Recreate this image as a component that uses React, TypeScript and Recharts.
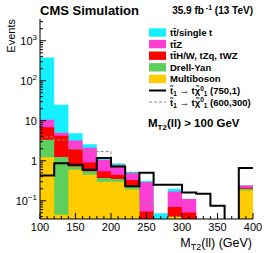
import React from 'react'
import { ComposedChart, Area, Line, XAxis, YAxis } from 'recharts'

// bin low edges (GeV), last entry closes the 380-400 bin
const binEdges = [100, 120, 140, 160, 180, 200, 220, 240, 260, 280, 300, 320, 340, 360, 380, 400]

// stacked backgrounds, events per bin (bottom to top)
const multiboson = [1.23, 0.045, 0.6, 0.45, 0.3, 0.3, 0.19, 0, 0, 0.04, 0, 0, 0, 0, 0.18]
const drellYan   = [2.12, 1.2, 0.12, 0.1, 0.07, 0.05, 0.05, 0, 0, 0, 0, 0, 0, 0, 0.02]
const ttOther    = [3.55, 2.95, 1.18, 0.35, 0.18, 0.1, 0.09, 0.054, 0, 0.03, 0.051, 0, 0, 0, 0.01]
const ttZ        = [3.7, 0.8, 1.3, 1.2, 0.5, 0.3, 0.16, 0.236, 0, 0.1, 0.059, 0, 0, 0, 0.03]
const ttSingleT  = [369, 20, 1.7, 0.5, 0.05, 0.1, 0.04, 0.02, 0.049, 0.03, 0, 0, 0, 0, 0.005]

// signal points
const sig750 = [0.43, 0.87, 0.79, 0.6, 1.17, 0.72, 0.23, 0.5, 0.25, 0.25, 0.16, 0.15, 0.075, 0, 0.66]
const sig600 = [3.9, 3.3, 2.0, 1.7, 1.7, 0.8, 0.5, 0.09, 0, 0, 0, 0, 0, 0, 0]

const xMajor = [100, 150, 200, 250, 300, 350, 400]
const yMajor = [0.1, 1, 10, 100, 1000]
const yLabels: Record<string, [string, string]> = {
  '0.1': ['10', '\u22121'],
  '1': ['1', ''],
  '10': ['10', ''],
  '100': ['10', '2'],
  '1000': ['10', '3'],
}

const CYAN = '#14f0ff'
const MAGENTA = '#ff3dd5'
const RED = '#ff0000'
const GREEN = '#5ccf5c'
const YELLOW = '#ffcc00'
const FONT = '"Liberation Sans", Arial, sans-serif'

const FLOOR = 0.001 // below the visible range, clipped away

const rows = binEdges.map((x, i) => {
  const b = Math.min(i, multiboson.length - 1)
  const mb = multiboson[b]
  const dy = mb + drellYan[b]
  const oth = dy + ttOther[b]
  const z = oth + ttZ[b]
  const tot = z + ttSingleT[b]
  return {
    x,
    mb: Math.max(mb, FLOOR),
    dy: Math.max(dy, FLOOR),
    oth: Math.max(oth, FLOOR),
    z: Math.max(z, FLOOR),
    tot: Math.max(tot, FLOOR),
    s750: Math.max(sig750[b], FLOOR),
    s600: Math.max(sig600[b], FLOOR),
  }
})

const xTicks: number[] = []
for (let v = 100; v <= 400; v += 10) xTicks.push(v)
const yTicks: number[] = []
for (let e = -2; e <= 3; e++) {
  for (let m = 1; m <= 9; m++) {
    const v = Number((m * Math.pow(10, e)).toPrecision(3))
    if (v >= 0.035 && v <= 3500) yTicks.push(v)
  }
}

const isMajorY = (v: number) => yMajor.includes(v)

function BottomTick({ x, y, payload }: any) {
  const v = payload.value
  const major = xMajor.includes(v)
  return (
    <g>
      <line x1={x} x2={x} y1={y} y2={y - (major ? 6 : 3)} stroke="#000" />
      {major && (
        <text x={x} y={y + 12} textAnchor="middle" fontSize={11} fontFamily={FONT} fill="#000">
          {v}
        </text>
      )}
    </g>
  )
}

function TopTick({ x, y, payload }: any) {
  const major = xMajor.includes(payload.value)
  return <line x1={x} x2={x} y1={y} y2={y + (major ? 6 : 3)} stroke="#000" />
}

function LeftTick({ x, y, payload }: any) {
  const v = payload.value
  const major = isMajorY(v)
  const lab = yLabels[String(v)]
  if (!major || !lab) {
    return <line x1={x} x2={x + 3} y1={y} y2={y} stroke="#000" />
  }
  return (
    <g>
      <line x1={x} x2={x + 6} y1={y} y2={y} stroke="#000" />
      {lab[1] ? (
        <text x={x - 3} y={y + 4} textAnchor="end" fontSize={11} fontFamily={FONT} fill="#000">
          {lab[0]}
          <tspan dy={-5} fontSize={8}>{lab[1]}</tspan>
        </text>
      ) : (
        <text x={x - 3} y={y + 4} textAnchor="end" fontSize={11} fontFamily={FONT} fill="#000">
          {lab[0]}
        </text>
      )}
    </g>
  )
}

function RightTick({ x, y, payload }: any) {
  const major = isMajorY(payload.value)
  return <line x1={x} x2={x - (major ? 6 : 3)} y1={y} y2={y} stroke="#000" />
}

const legendBoxes = [
  { color: CYAN, label: 'tt\u0304/single t' },
  { color: MAGENTA, label: 'tt\u0304Z' },
  { color: RED, label: 'tt\u0304H/W, tZq, tWZ' },
  { color: GREEN, label: 'Drell-Yan' },
  { color: YELLOW, label: 'Multiboson' },
]

const signalLegend = [
  { mass: '(750,1)', stroke: '#000', width: 2, dash: undefined as string | undefined },
  { mass: '(600,300)', stroke: '#888', width: 1, dash: '3 2' },
]

function Overlay() {
  const lx = 149
  const ty = 32.5
  const dy = 11.6
  return (
    <svg
      width={266}
      height={253}
      style={{ position: 'absolute', left: 0, top: 0, pointerEvents: 'none' }}
      fontFamily={FONT}
    >
      <text x={40} y={15} fontSize={13} fontWeight="bold">CMS Simulation</text>
      <text x={253} y={14} fontSize={10} fontWeight="bold" textAnchor="end">
        35.9 fb<tspan dy={-4} fontSize={7}> -1</tspan>
        <tspan dy={4}> (13 TeV)</tspan>
      </text>
      <text transform="translate(15,19) rotate(-90)" fontSize={11} textAnchor="end">Events</text>

      {legendBoxes.map((e, i) => (
        <g key={e.label}>
          <rect x={lx} y={ty + i * dy - 4.2} width={17} height={8.4} fill={e.color} />
          <text x={lx + 21} y={ty + i * dy + 3.5} fontSize={9.5} fontWeight="bold">{e.label}</text>
        </g>
      ))}
      {signalLegend.map((s, k) => {
        const yy = ty + (5 + k) * dy
        return (
          <g key={s.mass}>
            <line x1={lx} x2={lx + 17} y1={yy} y2={yy} stroke={s.stroke} strokeWidth={s.width} strokeDasharray={s.dash} />
            <text x={lx + 21} y={yy + 3.5} fontSize={9.5} fontWeight="bold">
              {'t\u0303'}
              <tspan dy={2} fontSize={6.5}>1</tspan>
              <tspan dy={-2}>{' \u2192 t\u03c7\u0303'}</tspan>
              <tspan dy={-3.5} fontSize={6.5}>0</tspan>
              <tspan dy={5.5} fontSize={6.5}>1</tspan>
              <tspan dy={-2}>{' ' + s.mass}</tspan>
            </text>
          </g>
        )
      })}

      <text x={148} y={127} fontSize={11.5} fontWeight="bold">
        M<tspan dy={3} fontSize={8}>T2</tspan>
        <tspan dy={-3}>(ll) &gt; 100 GeV</tspan>
      </text>

      <text x={252} y={247} fontSize={12.5} textAnchor="end">
        M<tspan dy={3} fontSize={9}>T2</tspan>
        <tspan dy={-3}>(ll) (GeV)</tspan>
      </text>
    </svg>
  )
}

export default function App() {
  return (
    <div style={{ position: 'absolute', left: 0, top: 0, width: 266, height: 253, background: '#fff' }}>
      <ComposedChart
        width={266}
        height={253}
        data={rows}
        margin={{ top: 19, right: 13, bottom: 0, left: 0 }}
      >
        <XAxis
          dataKey="x"
          type="number"
          domain={[100, 400]}
          allowDataOverflow
          ticks={xTicks}
          interval={0}
          height={34}
          tickSize={0}
          tickMargin={0}
          tick={<BottomTick />}
          axisLine={{ stroke: '#000' }}
        />
        <XAxis
          xAxisId="top"
          orientation="top"
          dataKey="x"
          type="number"
          domain={[100, 400]}
          allowDataOverflow
          ticks={xTicks}
          interval={0}
          height={0}
          tickSize={0}
          tickMargin={0}
          tick={<TopTick />}
          axisLine={{ stroke: '#000' }}
        />
        <YAxis
          type="number"
          scale="log"
          domain={[0.035, 3500]}
          allowDataOverflow
          ticks={yTicks}
          interval={0}
          width={40}
          tickSize={0}
          tickMargin={0}
          tick={<LeftTick />}
          axisLine={{ stroke: '#000' }}
        />
        <YAxis
          yAxisId="right"
          orientation="right"
          type="number"
          scale="log"
          domain={[0.035, 3500]}
          allowDataOverflow
          ticks={yTicks}
          interval={0}
          width={0}
          tickSize={0}
          tickMargin={0}
          tick={<RightTick />}
          axisLine={{ stroke: '#000' }}
        />
        <Area type="stepAfter" dataKey="tot" fill={CYAN} fillOpacity={1} stroke="none" dot={false} activeDot={false} isAnimationActive={false} />
        <Area type="stepAfter" dataKey="z" fill={MAGENTA} fillOpacity={1} stroke="none" dot={false} activeDot={false} isAnimationActive={false} />
        <Area type="stepAfter" dataKey="oth" fill={RED} fillOpacity={1} stroke="none" dot={false} activeDot={false} isAnimationActive={false} />
        <Area type="stepAfter" dataKey="dy" fill={GREEN} fillOpacity={1} stroke="none" dot={false} activeDot={false} isAnimationActive={false} />
        <Area type="stepAfter" dataKey="mb" fill={YELLOW} fillOpacity={1} stroke="none" dot={false} activeDot={false} isAnimationActive={false} />
        <Line type="stepAfter" dataKey="s600" stroke="#888" strokeWidth={1} strokeDasharray="3 2" dot={false} activeDot={false} isAnimationActive={false} />
        <Line type="stepAfter" dataKey="s750" stroke="#000" strokeWidth={2} dot={false} activeDot={false} isAnimationActive={false} />
      </ComposedChart>
      <Overlay />
    </div>
  )
}
